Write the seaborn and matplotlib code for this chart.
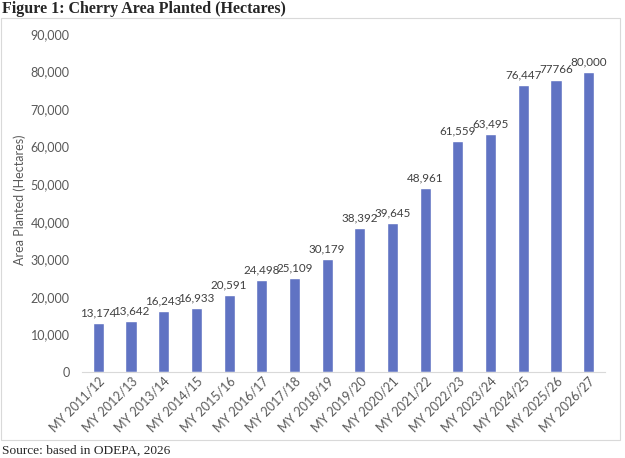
import pandas as pd
import matplotlib.pyplot as plt
import matplotlib.patches as mpatches
import seaborn as sns

seasons = ['MY 2011/12', 'MY 2012/13', 'MY 2013/14', 'MY 2014/15', 'MY 2015/16',
           'MY 2016/17', 'MY 2017/18', 'MY 2018/19', 'MY 2019/20', 'MY 2020/21',
           'MY 2021/22', 'MY 2022/23', 'MY 2023/24', 'MY 2024/25', 'MY 2025/26',
           'MY 2026/27']
area = [13174, 13642, 16243, 16933, 20591, 24498, 25109, 30179, 38392, 39645,
        48961, 61559, 63495, 76447, 77766, 80000]
labels = ['13,174', '13,642', '16,243', '16,933', '20,591', '24,498', '25,109',
          '30,179', '38,392', '39,645', '48,961', '61,559', '63,495', '76,447',
          '77766', '80,000']

df = pd.DataFrame({'Season': seasons, 'Area': area})

sns.set_style('white')
plt.rcParams['font.family'] = ['Lato', 'DejaVu Sans']

fig = plt.figure(figsize=(6.25, 4.58), dpi=100)
ax = fig.add_axes([0.1312, 0.1878, 0.8368, 0.738])

sns.barplot(data=df, x='Season', y='Area', color='#6073C3', width=0.34,
            saturation=1, ax=ax)

# value labels above bars
for i, (v, s) in enumerate(zip(area, labels)):
    ax.text(i, v + 1200, s, ha='center', va='bottom', fontsize=8.4, color='#404040')

ax.set_ylim(0, 90000)
ax.set_xlim(-0.5, len(seasons) - 0.5)
ax.set_yticks(range(0, 90001, 10000))
ax.set_yticklabels([f'{t:,}' for t in range(0, 90001, 10000)])
ax.tick_params(axis='y', length=0, labelsize=9, labelcolor='#595959', pad=9)
ax.tick_params(axis='x', length=0, labelsize=9, labelcolor='#595959', pad=2)
plt.setp(ax.get_xticklabels(), rotation=45, ha='right', rotation_mode='anchor')
ax.set_xlabel('')
ax.set_ylabel('Area Planted (Hectares)', fontsize=9, color='#595959')
ax.yaxis.set_label_coords(-0.107, 0.51)

for side in ['top', 'right', 'left']:
    ax.spines[side].set_visible(False)
ax.spines['bottom'].set_color('#d9d9d9')
ax.spines['bottom'].set_linewidth(0.8)

# chart frame
fig.patches.append(mpatches.Rectangle((0.002, 0.039), 0.99, 0.921, transform=fig.transFigure,
                                      fill=False, edgecolor='#d9d9d9', linewidth=0.8))

fig.text(0.003, 0.98, 'Figure 1: Cherry Area Planted (Hectares)', ha='left', va='center',
         fontsize=11.5, fontweight='bold', family='Liberation Serif')
fig.text(0.003, 0.016, 'Source: based in ODEPA, 2026', ha='left', va='center',
         fontsize=9.6, family='Liberation Serif')

plt.savefig('out.png', dpi=100)
